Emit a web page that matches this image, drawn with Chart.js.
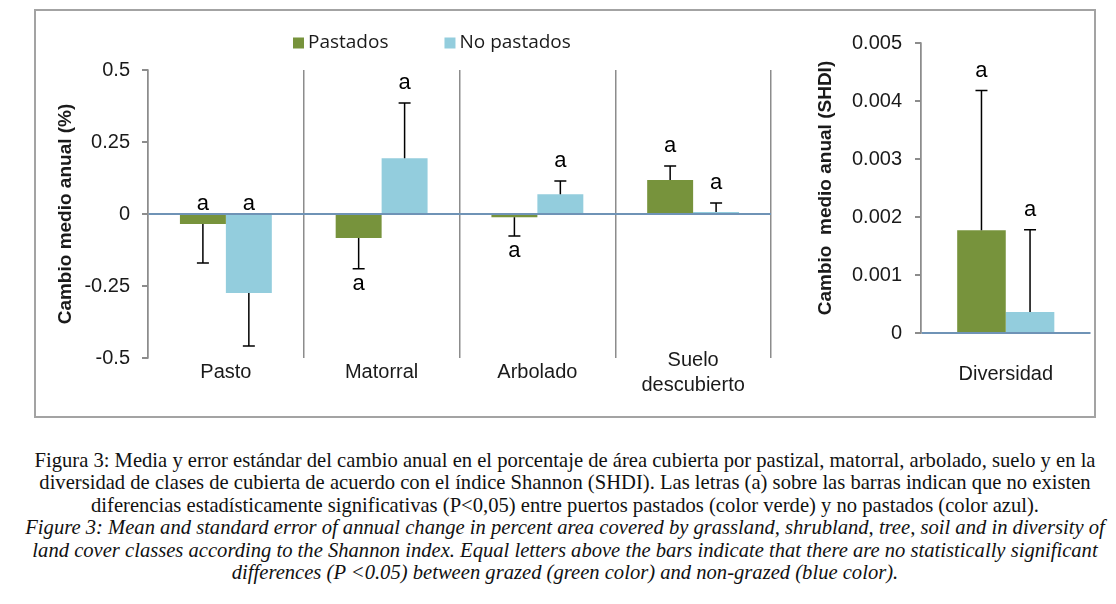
<!DOCTYPE html>
<html>
<head>
<meta charset="utf-8">
<script src="https://cdn.jsdelivr.net/npm/chart.js@4.4.1/dist/chart.umd.min.js"></script>
<style>
  html, body { margin: 0; padding: 0; background: #fff; }
  body { width: 1116px; height: 604px; position: relative; overflow: hidden; }
  #frame { position: absolute; left: 34px; top: 9px; width: 1062px; height: 409px;
           box-sizing: border-box; border: 2px solid #a3a3a3; }
  #cLeft { position: absolute; left: 34px; top: 11px; }
  #cRight { position: absolute; left: 776px; top: 11px; }
  #caption { position: absolute; left: 0; top: 449px; width: 1130px; transform-origin: 565px 0;
             font-family: "Liberation Serif", "Times New Roman", serif; font-size: 21px;
             line-height: 22.4px; color: #111; text-align: center; white-space: nowrap; }
  #caption .en { font-style: italic; }
</style>
</head>
<body>
<div id="frame"></div>
<canvas id="cLeft" width="742" height="405"></canvas>
<canvas id="cRight" width="318" height="405"></canvas>
<div id="caption">
  <div id="cap1">Figura 3: Media y error estándar del cambio anual en el porcentaje de área cubierta por pastizal, matorral, arbolado, suelo y en la</div>
  <div>diversidad de clases de cubierta de acuerdo con el índice Shannon (SHDI). Las letras (a) sobre las barras indican que no existen</div>
  <div>diferencias estadísticamente significativas (P&lt;0,05) entre puertos pastados (color verde) y no pastados (color azul).</div>
  <div class="en">Figure 3: Mean and standard error of annual change in percent area covered by grassland, shrubland, tree, soil and in diversity of</div>
  <div class="en">land cover classes according to the Shannon index. Equal letters above the bars indicate that there are no statistically significant</div>
  <div class="en">differences (P &lt;0.05) between grazed (green color) and non-grazed (blue color).</div>
</div>
<script>
// --- datos ---
const categories = ['Pasto', 'Matorral', 'Arbolado', ['Suelo', 'descubierto']];
const pastados = [-0.035, -0.083, -0.011, 0.118];
const noPastados = [-0.274, 0.194, 0.069, 0.007];
const pastadosErr = [0.135, 0.107, 0.065, 0.049];
const noPastadosErr = [0.184, 0.191, 0.046, 0.031];
const pastadosLetters = ['a', 'a', 'a', 'a'];
const noPastadosLetters = ['a', 'a', 'a', 'a'];
const pastadosLetterSide = ['above', 'below', 'below', 'above'];
const noPastadosLetterSide = ['above', 'above', 'above', 'above'];

const divCategories = ['Diversidad'];
const divPastados = [0.00177];
const divNoPastados = [0.00036];
const divPastadosErr = [0.00241];
const divNoPastadosErr = [0.00142];
const divPastadosLetters = ['a'];
const divNoPastadosLetters = ['a'];
const divLetterSide = ['above'];

const seriesNames = ['Pastados', 'No pastados'];

const GREEN = '#77933c';
const BLUE = '#93cddd';
const ZERO = '#6f93b6';
const AXIS = '#8c8c8c';
const TXT = '#1a1a1a';
const SANS = '"Liberation Sans", Arial, sans-serif';

// barras de error (solo hacia fuera del cero) y letras
const errorBars = {
  id: 'errorBars',
  afterDatasetsDraw(chart) {
    const ctx = chart.ctx;
    const y = chart.scales.y;
    const zeroPx = y.getPixelForValue(0);
    ctx.save();
    chart.data.datasets.forEach((ds, i) => {
      const meta = chart.getDatasetMeta(i);
      meta.data.forEach((bar, j) => {
        const v = ds.data[j];
        const e = ds.errors[j];
        const end = v >= 0 ? v + e : v - e;
        const yEnd = y.getPixelForValue(end);
        ctx.strokeStyle = '#000';
        ctx.lineWidth = 1.5;
        ctx.beginPath();
        ctx.moveTo(bar.x, bar.y);
        ctx.lineTo(bar.x, yEnd);
        ctx.moveTo(bar.x - 6, yEnd);
        ctx.lineTo(bar.x + 6, yEnd);
        ctx.stroke();

        ctx.fillStyle = '#000';
        ctx.font = '22px ' + SANS;
        ctx.textAlign = 'center';
        ctx.textBaseline = 'alphabetic';
        let ly;
        if (ds.letterSide[j] === 'above') {
          ly = v >= 0 ? yEnd - 14 : zeroPx - 4;
        } else {
          ly = yEnd + 21;
        }
        ctx.fillText(ds.letters[j], bar.x, ly);
      });
    });
    ctx.restore();
  }
};

// leyenda dibujada a mano encima del panel izquierdo
const topLegend = {
  id: 'topLegend',
  afterDraw(chart) {
    const ctx = chart.ctx;
    ctx.save();
    ctx.font = '19px "Open Sans", "Noto Sans", sans-serif';
    ctx.textBaseline = 'middle';
    ctx.textAlign = 'left';
    let x = 259;
    const ym = 32;
    chart.data.datasets.forEach(ds => {
      ctx.fillStyle = ds.backgroundColor;
      ctx.fillRect(x, ym - 5.5, 11, 11);
      x += 15;
      ctx.fillStyle = TXT;
      ctx.fillText(ds.label, x, ym);
      x += ctx.measureText(ds.label).width + 56;
    });
    ctx.restore();
  }
};

function yTitle(text, pad) {
  return { display: true, text: text, color: TXT,
           font: { family: SANS, size: 19, weight: 'bold' }, padding: { top: pad, bottom: 0 } };
}

// las etiquetas de categoría suben un poco sobre el área del gráfico, como en el original
const noLabelClip = s => { s._computeLabelArea = () => null; };

new Chart(document.getElementById('cLeft'), {
  type: 'bar',
  data: {
    labels: categories,
    datasets: [
      { label: seriesNames[0], data: pastados, errors: pastadosErr, letters: pastadosLetters,
        letterSide: pastadosLetterSide, backgroundColor: GREEN },
      { label: seriesNames[1], data: noPastados, errors: noPastadosErr, letters: noPastadosLetters,
        letterSide: noPastadosLetterSide, backgroundColor: BLUE }
    ]
  },
  options: {
    responsive: false,
    animation: false,
    categoryPercentage: 0.59,
    barPercentage: 1.0,
    layout: { padding: { top: 59, right: 5, left: 0, bottom: 0 } },
    plugins: { legend: { display: false }, tooltip: { enabled: false } },
    scales: {
      x: {
        grid: { display: true, offset: true, drawTicks: false, color: AXIS, lineWidth: 1.5 },
        border: { display: false },
        ticks: { color: TXT, font: { family: SANS, size: 20, lineHeight: 1.25 }, padding: 2,
                 crossAlign: 'center', maxRotation: 0, autoSkip: false },
        afterFit: s => { s.height = 58; },
        afterUpdate: noLabelClip
      },
      y: {
        min: -0.5, max: 0.5,
        grid: { z: 1, drawTicks: true, tickLength: 6, tickColor: AXIS, lineWidth: 2,
                color: c => (c.tick && c.tick.value === 0) ? ZERO : 'rgba(0,0,0,0)' },
        border: { display: true, color: AXIS, width: 1.5, z: 1 },
        ticks: { stepSize: 0.25, color: TXT, padding: 12, font: { family: SANS, size: 20 },
                 callback: v => String(Math.round(v * 100) / 100) },
        title: yTitle('Cambio medio anual (%)', 20),
        afterFit: s => { s.width = 114; }
      }
    }
  },
  plugins: [errorBars, topLegend]
});

new Chart(document.getElementById('cRight'), {
  type: 'bar',
  data: {
    labels: divCategories,
    datasets: [
      { label: seriesNames[0], data: divPastados, errors: divPastadosErr, letters: divPastadosLetters,
        letterSide: divLetterSide, backgroundColor: GREEN },
      { label: seriesNames[1], data: divNoPastados, errors: divNoPastadosErr, letters: divNoPastadosLetters,
        letterSide: divLetterSide, backgroundColor: BLUE }
    ]
  },
  options: {
    responsive: false,
    animation: false,
    categoryPercentage: 0.573,
    barPercentage: 1.0,
    layout: { padding: { top: 32, right: 0, left: 0, bottom: 0 } },
    plugins: { legend: { display: false }, tooltip: { enabled: false } },
    scales: {
      x: {
        // solo la línea izquierda de la rejilla: hace de eje vertical
        grid: { display: true, offset: true, drawTicks: false, lineWidth: 1.5,
                color: c => c.index === 0 ? AXIS : 'rgba(0,0,0,0)' },
        border: { display: false },
        ticks: { color: TXT, font: { family: SANS, size: 20, lineHeight: 1.25 }, padding: 41,
                 crossAlign: 'center', maxRotation: 0 },
        afterFit: s => { s.height = 83; }
      },
      y: {
        min: 0, max: 0.005,
        grid: { z: 1, drawTicks: true, tickLength: 6, tickColor: AXIS, lineWidth: 2,
                color: c => (c.tick && c.tick.value === 0) ? ZERO : 'rgba(0,0,0,0)' },
        border: { display: true, color: AXIS, width: 1.5, z: 1 },
        ticks: { stepSize: 0.001, color: TXT, padding: 13, font: { family: SANS, size: 20 },
                 callback: v => v === 0 ? '0' : v.toFixed(3) },
        title: yTitle('Cambio  medio anual (SHDI)', 38),
        afterFit: s => { s.width = 145; }
      }
    }
  },
  plugins: [errorBars]
});

// ajuste horizontal del pie de figura (tipografía condensada del original)
const cap = document.getElementById('caption');
const c1 = document.getElementById('cap1');
const r = document.createRange();
r.selectNodeContents(c1);
const w = r.getBoundingClientRect().width;
cap.style.transform = 'scaleX(' + (1061 / w) + ')';
</script>
</body>
</html>
